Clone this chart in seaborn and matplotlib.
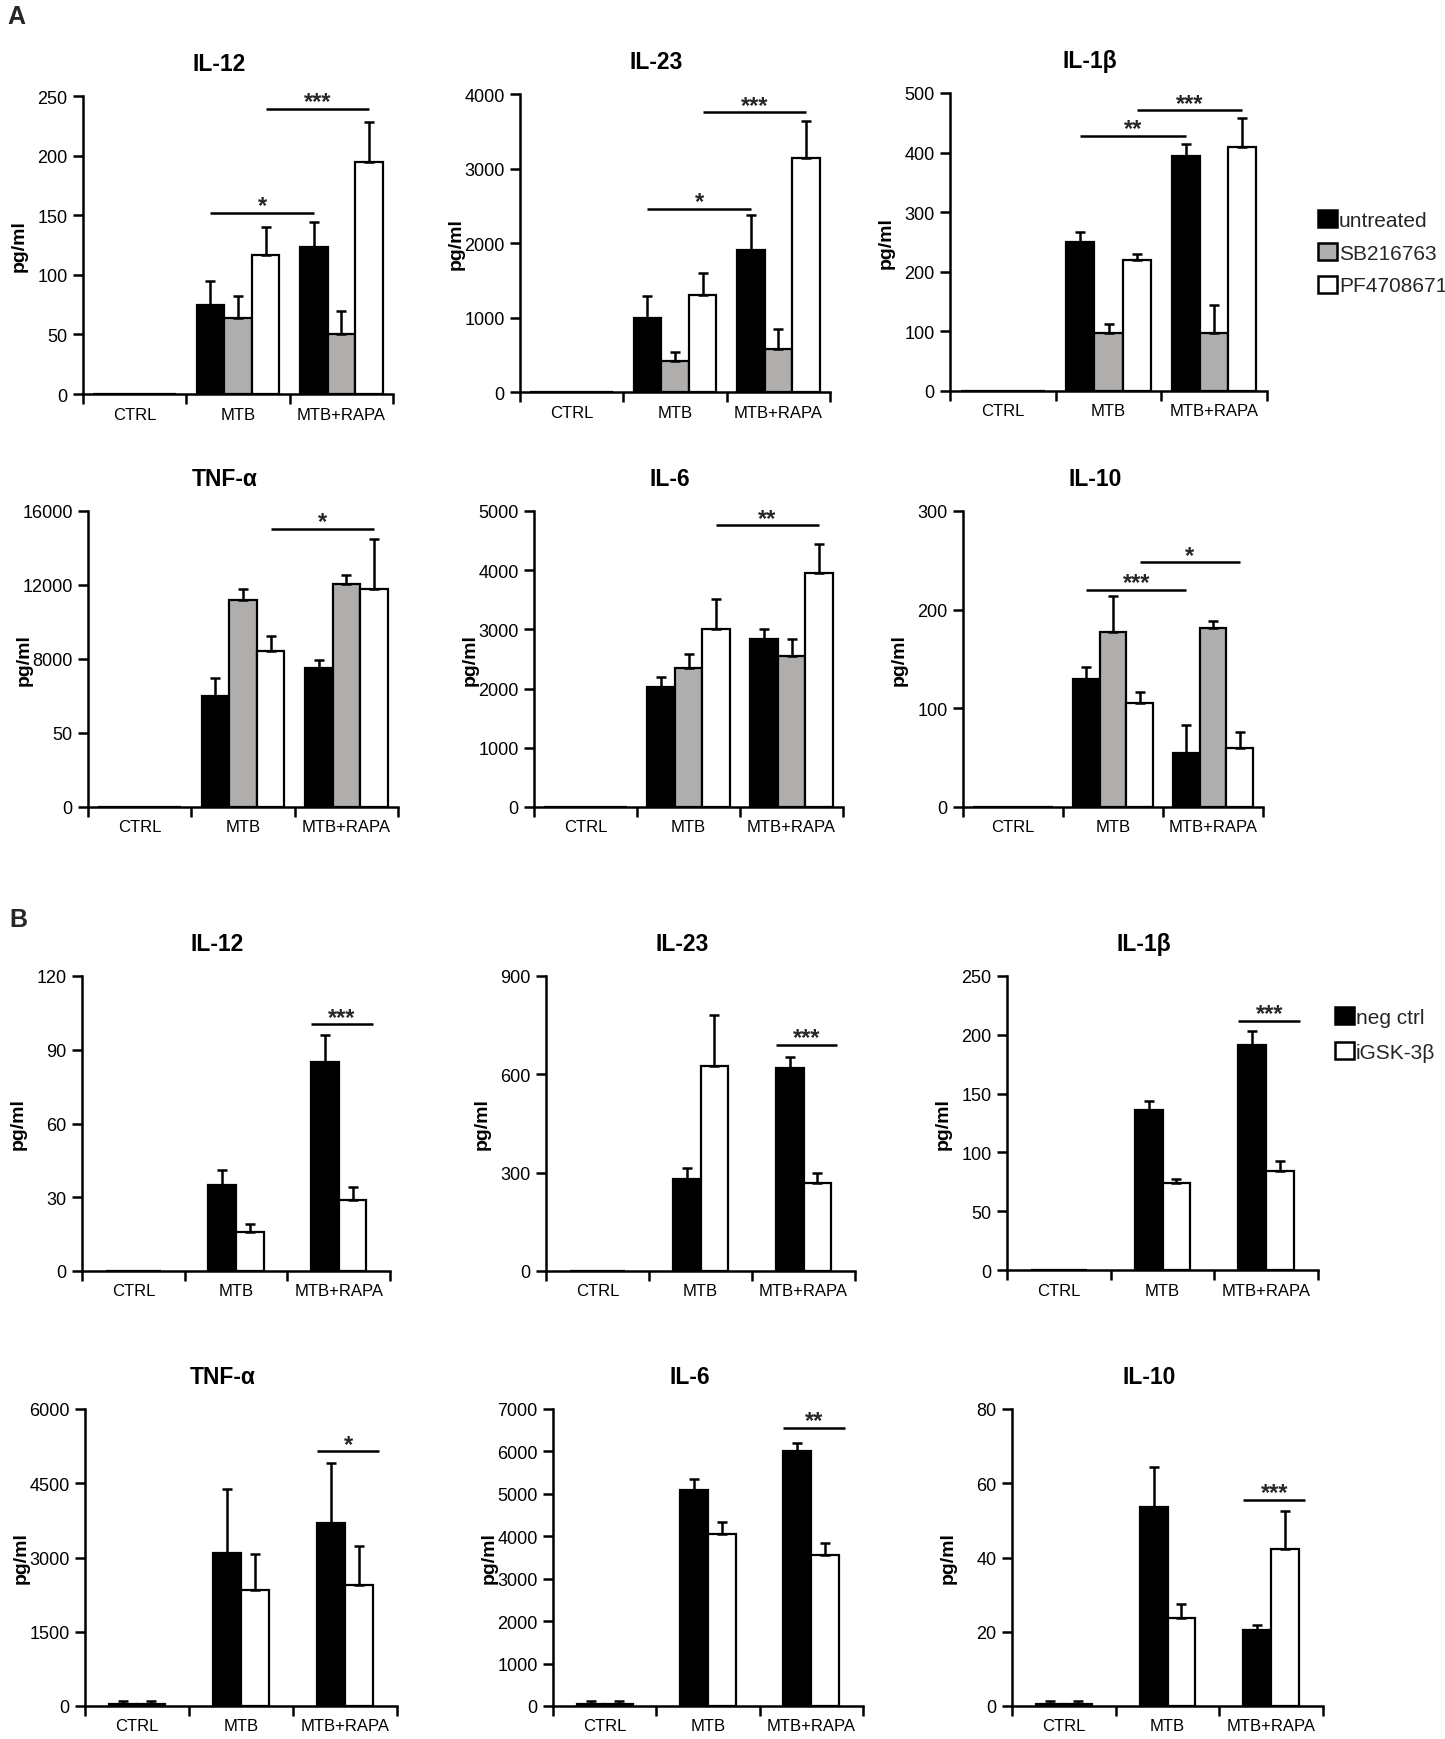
import numpy as np
import pandas as pd
import matplotlib
matplotlib.use("Agg")
import matplotlib.pyplot as plt
import seaborn as sns
from matplotlib.patches import Patch

# ---------------- data ----------------
categories = ["CTRL", "MTB", "MTB+RAPA"]
treatments_A = ["untreated", "SB216763", "PF4708671"]
treatments_B = ["neg ctrl", "iGSK-3\u03b2"]

# rows = treatments, columns = categories
A_IL12_mean = [[0, 75, 123], [0, 64, 50], [0, 117, 195]]
A_IL12_err = [[0, 20, 21], [0, 18, 20], [0, 23, 33]]
A_IL23_mean = [[0, 1000, 1900], [0, 410, 580], [0, 1300, 3140]]
A_IL23_err = [[0, 290, 470], [0, 130, 260], [0, 300, 500]]
A_IL1B_mean = [[0, 250, 395], [0, 97, 97], [0, 220, 410]]
A_IL1B_err = [[0, 17, 20], [0, 16, 47], [0, 10, 48]]
A_TNF_mean = [[0, 6000, 7500], [0, 11200, 12050], [0, 8450, 11800]]
A_TNF_err = [[0, 1000, 450], [0, 600, 480], [0, 800, 2700]]
A_IL6_mean = [[0, 2030, 2830], [0, 2350, 2550], [0, 3010, 3950]]
A_IL6_err = [[0, 170, 180], [0, 240, 280], [0, 510, 500]]
A_IL10_mean = [[0, 130, 55], [0, 177, 181], [0, 105, 60]]
A_IL10_err = [[0, 12, 28], [0, 37, 8], [0, 12, 16]]

B_IL12_mean = [[0, 35, 85], [0, 16, 29]]
B_IL12_err = [[0, 6, 11], [0, 3, 5]]
B_IL23_mean = [[0, 280, 620], [0, 625, 270]]
B_IL23_err = [[0, 35, 33], [0, 155, 28]]
B_IL1B_mean = [[0, 136, 191], [0, 74, 84]]
B_IL1B_err = [[0, 8, 12], [0, 3, 9]]
B_TNF_mean = [[40, 3100, 3700], [35, 2350, 2450]]
B_TNF_err = [[70, 1280, 1200], [75, 730, 790]]
B_IL6_mean = [[40, 5100, 6000], [40, 4050, 3550]]
B_IL6_err = [[80, 250, 210], [80, 280, 280]]
B_IL10_mean = [[0.5, 53.5, 20.4], [0.5, 23.6, 42.4]]
B_IL10_err = [[0.8, 11, 1.4], [0.8, 4, 10]]

# y ticks
A_IL12_ticks = [0, 50, 100, 150, 200, 250]
A_IL23_ticks = [0, 1000, 2000, 3000, 4000]
A_IL1B_ticks = [0, 100, 200, 300, 400, 500]
A_TNF_ticks = [0, 4000, 8000, 12000, 16000]
A_TNF_ticklabels = ["0", "50", "8000", "12000", "16000"]
A_IL6_ticks = [0, 1000, 2000, 3000, 4000, 5000]
A_IL10_ticks = [0, 100, 200, 300]
B_IL12_ticks = [0, 30, 60, 90, 120]
B_IL23_ticks = [0, 300, 600, 900]
B_IL1B_ticks = [0, 50, 100, 150, 200, 250]
B_TNF_ticks = [0, 1500, 3000, 4500, 6000]
B_IL6_ticks = [0, 1000, 2000, 3000, 4000, 5000, 6000, 7000]
B_IL10_ticks = [0, 20, 40, 60, 80]

# significance annotations: (label, cat_a, hue_a, cat_b, hue_b, y)
A_IL12_sig = [("*", 1, 0, 2, 0, 152), ("***", 1, 2, 2, 2, 239)]
A_IL23_sig = [("*", 1, 0, 2, 0, 2463), ("***", 1, 2, 2, 2, 3753)]
A_IL1B_sig = [("**", 1, 0, 2, 0, 428), ("***", 1, 2, 2, 2, 471)]
A_TNF_sig = [("*", 1, 2, 2, 2, 15045)]
A_IL6_sig = [("**", 1, 2, 2, 2, 4758)]
A_IL10_sig = [("***", 1, 0, 2, 0, 220), ("*", 1, 2, 2, 2, 248)]
# B: bracket over the MTB+RAPA group
B_IL12_sig = [("***", 2, 100.3)]
B_IL23_sig = [("***", 2, 690)]
B_IL1B_sig = [("***", 2, 212)]
B_TNF_sig = [("*", 2, 5144)]
B_IL6_sig = [("**", 2, 6550)]
B_IL10_sig = [("***", 2, 55.5)]

# ---------------- style ----------------
sns.set_theme(style="ticks")
plt.rcParams["font.family"] = ["Liberation Sans", "DejaVu Sans"]
NARROW = ["Liberation Sans Narrow", "Liberation Sans", "DejaVu Sans"]
colors_A = ["#000000", "#b0adad", "#ffffff"]
colors_B = ["#000000", "#ffffff"]
LW = 1.8

W, H = 1445, 1740
fig = plt.figure(figsize=(W / 100, H / 100), dpi=100)
fig.patch.set_facecolor("white")


def add_axes_px(left, right, top, bottom):
    return fig.add_axes([left / W, 1 - bottom / H, (right - left) / W, (bottom - top) / H])


def draw_panel(box, title, means, errs, hues, colors, yticks, yticklabels, sig, group_width, mode):
    ax = add_axes_px(*box)
    rows = []
    for hi, h in enumerate(hues):
        for ci, c in enumerate(categories):
            rows.append({"condition": c, "treatment": h, "value": means[hi][ci]})
    df = pd.DataFrame(rows)
    sns.barplot(data=df, x="condition", y="value", hue="treatment", order=categories,
                hue_order=hues, palette=dict(zip(hues, colors)), width=group_width,
                errorbar=None, edgecolor="black", linewidth=1.6, saturation=1,
                legend=False, ax=ax)
    nh = len(hues)
    bars = sorted(ax.patches, key=lambda p: p.get_x() + p.get_width() / 2)
    pos = {}
    k = 0
    for ci in range(len(categories)):
        for hi in range(nh):
            p = bars[k]
            k += 1
            xc = p.get_x() + p.get_width() / 2
            pos[(ci, hi)] = (xc, p.get_width())
            e = errs[hi][ci]
            if e > 0:
                ax.errorbar([xc], [means[hi][ci]], yerr=[[0], [e]], fmt="none",
                            ecolor="black", elinewidth=LW, capsize=3.5, capthick=LW, zorder=3)
    # significance
    for s in sig:
        if mode == "A":
            lab, ca, ha, cb, hb, y = s
            x0 = pos[(ca, ha)][0]
            x1 = pos[(cb, hb)][0]
        else:
            lab, cg, y = s
            x0 = pos[(cg, 0)][0] - pos[(cg, 0)][1] / 2
            x1 = pos[(cg, nh - 1)][0] + pos[(cg, nh - 1)][1] / 2 + 0.06
        ax.plot([x0, x1], [y, y], color="black", lw=LW, clip_on=False, solid_capstyle="butt")
        ax.annotate(lab, xy=((x0 + x1) / 2, y), xytext=(0, 0.5), textcoords="offset points",
                    ha="center", va="baseline", fontsize=17, fontweight="bold", annotation_clip=False)
    # axes styling
    ax.set_xlim(-0.5, 2.5)
    ax.set_ylim(0, yticks[-1])
    ax.set_yticks(yticks)
    ax.set_yticklabels(yticklabels if yticklabels else [str(t) for t in yticks],
                       fontfamily=NARROW, fontsize=13)
    ax.set_xticks([-0.5, 0.5, 1.5, 2.5])
    ax.set_xticklabels([])
    ax.set_xticks([0, 1, 2], minor=True)
    ax.set_xticklabels(categories, minor=True, fontfamily=NARROW, fontsize=12)
    ax.tick_params(axis="x", which="major", length=7, width=LW, direction="out", color="black")
    ax.tick_params(axis="x", which="minor", length=0, pad=9, colors="black")
    ax.tick_params(axis="y", length=7, width=LW, pad=4, color="black", labelcolor="black")
    sns.despine(ax=ax)
    for sp in ["left", "bottom"]:
        ax.spines[sp].set_linewidth(LW)
        ax.spines[sp].set_color("black")
    ax.set_xlabel("")
    ax.set_ylabel("pg/ml", fontweight="bold", fontsize=14, va="center", color="black")
    ax.yaxis.set_label_coords(-64 / (box[1] - box[0]), 0.5)
    ax.set_title(title, x=0.44, pad=19, fontsize=16.5, fontweight="bold", color="black")
    ax.set_facecolor("white")
    return ax


panels_A = [
    ((83, 393, 97, 395), "IL-12", A_IL12_mean, A_IL12_err, A_IL12_ticks, None, A_IL12_sig),
    ((520, 830, 95, 393), "IL-23", A_IL23_mean, A_IL23_err, A_IL23_ticks, None, A_IL23_sig),
    ((950, 1267, 94, 392), "IL-1\u03b2", A_IL1B_mean, A_IL1B_err, A_IL1B_ticks, None, A_IL1B_sig),
    ((88, 398, 512, 808), "TNF-\u03b1", A_TNF_mean, A_TNF_err, A_TNF_ticks, A_TNF_ticklabels, A_TNF_sig),
    ((534, 843, 512, 808), "IL-6", A_IL6_mean, A_IL6_err, A_IL6_ticks, None, A_IL6_sig),
    ((963, 1263, 512, 808), "IL-10", A_IL10_mean, A_IL10_err, A_IL10_ticks, None, A_IL10_sig),
]
panels_B = [
    ((82, 390, 977, 1272), "IL-12", B_IL12_mean, B_IL12_err, B_IL12_ticks, None, B_IL12_sig),
    ((546, 855, 977, 1272), "IL-23", B_IL23_mean, B_IL23_err, B_IL23_ticks, None, B_IL23_sig),
    ((1007, 1318, 977, 1271), "IL-1\u03b2", B_IL1B_mean, B_IL1B_err, B_IL1B_ticks, None, B_IL1B_sig),
    ((85, 397, 1410, 1707), "TNF-\u03b1", B_TNF_mean, B_TNF_err, B_TNF_ticks, None, B_TNF_sig),
    ((553, 863, 1410, 1707), "IL-6", B_IL6_mean, B_IL6_err, B_IL6_ticks, None, B_IL6_sig),
    ((1012, 1323, 1410, 1707), "IL-10", B_IL10_mean, B_IL10_err, B_IL10_ticks, None, B_IL10_sig),
]

for box, title, m, e, t, tl, sg in panels_A:
    draw_panel(box, title, m, e, treatments_A, colors_A, t, tl, sg, 0.8, "A")
for box, title, m, e, t, tl, sg in panels_B:
    draw_panel(box, title, m, e, treatments_B, colors_B, t, tl, sg, 0.54, "B")

# legends
hA = [Patch(facecolor=c, edgecolor="black", linewidth=LW) for c in colors_A]
fig.legend(hA, treatments_A, loc="upper left", bbox_to_anchor=(1318 / W, 1 - 211 / H),
           frameon=False, fontsize=15, handlelength=0.9, handleheight=0.9,
           handletextpad=0.1, labelspacing=0.62, borderpad=0, borderaxespad=0)
hB = [Patch(facecolor=c, edgecolor="black", linewidth=LW) for c in colors_B]
fig.legend(hB, treatments_B, loc="upper left", bbox_to_anchor=(1335 / W, 1 - 1008 / H),
           frameon=False, fontsize=15, handlelength=0.9, handleheight=0.9,
           handletextpad=0.1, labelspacing=0.72, borderpad=0, borderaxespad=0)

# panel letters
fig.text(7 / W, 1 - 5 / H, "A", fontsize=18, fontweight="bold", ha="left", va="top")
fig.text(9 / W, 1 - 908 / H, "B", fontsize=18, fontweight="bold", ha="left", va="top")

fig.savefig("out.png", dpi=100, facecolor="white")
